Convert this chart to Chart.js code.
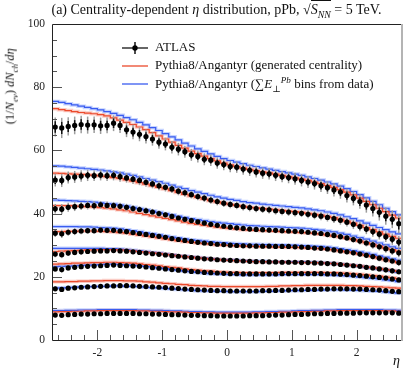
<!DOCTYPE html>
<html>
<head>
<meta charset="utf-8">
<script src="https://cdn.jsdelivr.net/npm/chart.js@4.4.0/dist/chart.umd.min.js"></script>
<style>
body { margin: 0; background: #fff; }
#wrap { position: relative; width: 415px; height: 375px; font-family: "Liberation Serif", "DejaVu Serif", serif; color: #111; }
#c { position: absolute; left: 0; top: 0; }
.title { position: absolute; left: 0; width: 433px; top: 2px; text-align: center; font-size: 14px; white-space: nowrap; }
.root { border-top: 1px solid #111; padding-top: 1px; }
.ylab { position: absolute; left: 12px; top: 84px; width: 160px; margin-left: -80px; margin-top: -9px; text-align: center; font-size: 12.5px; line-height: 18px; white-space: nowrap; transform: rotate(-90deg); }
.xlab { position: absolute; left: 393px; top: 353px; font-size: 14px; font-style: italic; }
.leg { position: absolute; left: 120px; font-size: 13px; white-space: nowrap; }
.leg svg { position: absolute; left: 0; top: 1px; }
.leg span { position: absolute; left: 35px; top: -1px; }
sub, sup { font-size: 70%; }
</style>
</head>
<body>
<div id="wrap">
  <canvas id="c" width="415" height="375"></canvas>
  <div class="title">(a) Centrality-dependent <i>η</i> distribution, pPb, √<span class="root"><i>S</i><sub><i>NN</i></sub></span> = 5 TeV.</div>
  <div class="ylab">(1/<i>N</i><sub><i>ev</i></sub>) <i>dN</i><sub><i>ch</i></sub>/<i>dη</i></div>
  <div class="xlab">η</div>
  <div class="leg" style="top:40px">
    <svg width="30" height="14"><line x1="2" y1="7" x2="28" y2="7" stroke="#000" stroke-width="1.2"/><line x1="15" y1="1" x2="15" y2="13" stroke="#000" stroke-width="1.4"/><circle cx="15" cy="7" r="2.7" fill="#000"/></svg>
    <span>ATLAS</span>
  </div>
  <div class="leg" style="top:58px">
    <svg width="30" height="14"><line x1="2" y1="7" x2="28" y2="7" stroke="#eb4a2c" stroke-width="1.3"/></svg>
    <span>Pythia8/Angantyr (generated centrality)</span>
  </div>
  <div class="leg" style="top:76px">
    <svg width="30" height="14"><line x1="2" y1="7" x2="28" y2="7" stroke="#3a5cf0" stroke-width="1.3"/></svg>
    <span>Pythia8/Angantyr (∑<i>E</i><sub>⊥</sub><sup><i>Pb</i></sup> bins from data)</span>
  </div>
</div>
<script>
// eta bin centres (bin width 0.1)
const eta = [-2.65,-2.55,-2.45,-2.35,-2.25,-2.15,-2.05,-1.95,-1.85,-1.75,-1.65,-1.55,-1.45,-1.35,-1.25,-1.15,-1.05,-0.95,-0.85,-0.75,-0.65,-0.55,-0.45,-0.35,-0.25,-0.15,-0.05,
  0.05,0.15,0.25,0.35,0.45,0.55,0.65,0.75,0.85,0.95,1.05,1.15,1.25,1.35,1.45,1.55,1.65,1.75,1.85,1.95,2.05,2.15,2.25,2.35,2.45,2.55,2.65];

const xTicks = [-2, -1, 0, 1, 2];
const yTicks = [0, 20, 40, 60, 80, 100];

// ATLAS data, one array per centrality class (most central first)
const atlas1 = [67.4,67.1,67.6,67.9,68.2,68.0,68.1,67.8,67.9,68.6,67.9,66.5,65.8,65.1,64.4,63.6,62.6,62.0,61.0,60.4,59.6,58.6,58.1,57.2,56.9,56.0,55.5,
  54.9,54.7,54.1,53.7,53.2,52.8,52.6,52.1,51.7,51.4,51.0,50.5,50.0,49.5,48.8,48.2,47.5,46.8,45.7,44.8,43.8,42.7,41.6,40.4,39.2,38.2,36.8];
const atlas2 = [50.6,50.5,51.4,51.6,51.9,52.1,52.0,52.2,52.0,52.1,51.7,51.3,50.9,50.5,49.9,49.4,48.8,48.3,47.8,47.1,46.6,46.0,45.4,44.9,44.3,43.8,43.3,
  42.9,42.6,42.2,41.9,41.6,41.4,41.2,40.9,40.7,40.5,40.3,40.1,39.8,39.5,39.2,38.8,38.4,37.9,37.3,36.6,35.9,35.1,34.3,33.5,32.7,31.9,31.0];
const atlas3 = [41.5,41.4,42.0,42.2,42.4,42.6,42.5,42.8,42.6,42.5,42.3,42.0,41.6,41.3,40.9,40.5,40.0,39.6,39.1,38.6,38.2,37.8,37.4,37.0,36.6,36.3,36.0,
  35.7,35.5,35.3,35.1,35.0,34.9,34.8,34.7,34.6,34.5,34.4,34.3,34.1,33.9,33.7,33.4,33.1,32.7,32.3,31.8,31.3,30.7,30.1,29.5,28.9,28.2,27.6];
const atlas4 = [33.8,33.6,34.1,34.3,34.5,34.6,34.6,34.8,34.7,34.7,34.5,34.3,34.0,33.7,33.4,33.1,32.8,32.5,32.1,31.8,31.5,31.2,30.9,30.7,30.5,30.3,30.2,
  30.0,29.9,29.8,29.8,29.7,29.7,29.7,29.6,29.6,29.6,29.5,29.4,29.3,29.1,29.0,28.8,28.5,28.2,27.9,27.6,27.2,26.8,26.4,25.9,25.4,25.0,24.5];
const atlas5 = [27.2,27.0,27.5,27.7,27.9,28.0,28.1,28.2,28.2,28.3,28.2,28.1,27.9,27.7,27.5,27.3,27.1,26.9,26.7,26.5,26.3,26.1,25.9,25.7,25.6,25.4,25.3,
  25.2,25.1,25.0,24.9,24.8,24.8,24.7,24.7,24.6,24.6,24.6,24.5,24.5,24.4,24.3,24.2,24.1,23.9,23.7,23.5,23.3,23.0,22.8,22.5,22.2,21.9,21.6];
const atlas6 = [22.5,22.3,22.8,23.0,23.2,23.3,23.4,23.5,23.6,23.7,23.6,23.5,23.4,23.3,23.1,22.9,22.7,22.5,22.3,22.1,21.9,21.7,21.6,21.4,21.3,21.2,21.1,
  21.0,21.0,20.9,20.9,20.9,20.9,20.9,20.9,21.0,21.0,21.0,21.0,21.0,21.0,21.0,20.9,20.9,20.8,20.7,20.5,20.4,20.2,20.0,19.8,19.6,19.3,19.0];
const atlas7 = [16.2,16.0,16.4,16.5,16.7,16.8,16.9,17.0,17.1,17.1,17.2,17.2,17.1,17.0,16.9,16.8,16.7,16.6,16.4,16.3,16.1,16.0,15.9,15.8,15.7,15.6,15.6,
  15.5,15.5,15.5,15.5,15.5,15.6,15.6,15.7,15.7,15.8,15.9,15.9,16.0,16.0,16.1,16.1,16.2,16.2,16.2,16.1,16.1,16.0,15.9,15.8,15.6,15.4,15.3];
const atlas8 = [7.9,7.8,8.0,8.1,8.2,8.2,8.3,8.3,8.4,8.4,8.4,8.4,8.4,8.3,8.3,8.2,8.2,8.1,8.0,8.0,7.9,7.8,7.8,7.7,7.7,7.6,7.6,
  7.6,7.6,7.6,7.7,7.7,7.7,7.8,7.9,7.9,8.0,8.1,8.1,8.2,8.3,8.3,8.4,8.4,8.5,8.5,8.5,8.6,8.6,8.6,8.6,8.6,8.6,8.5];

// ATLAS uncertainties
const err1 = [3.0,3.2,2.9,2.8,2.8,2.7,2.6,2.6,2.5,2.5,2.4,2.3,2.3,2.2,2.2,2.1,2.1,2.0,2.0,2.0,1.9,1.9,1.9,1.9,1.8,1.8,1.8,
  1.8,1.8,1.8,1.8,1.8,1.8,1.8,1.8,1.8,1.8,1.9,1.9,1.9,1.9,2.0,2.0,2.1,2.1,2.2,2.2,2.3,2.4,2.5,2.6,2.7,2.8,3.0];
const err2 = [2.0,2.1,1.9,1.9,1.8,1.8,1.7,1.7,1.7,1.6,1.6,1.5,1.5,1.5,1.4,1.4,1.4,1.3,1.3,1.3,1.3,1.2,1.2,1.2,1.2,1.2,1.2,
  1.2,1.2,1.2,1.2,1.2,1.2,1.2,1.2,1.2,1.2,1.2,1.2,1.3,1.3,1.3,1.3,1.4,1.4,1.4,1.5,1.5,1.6,1.6,1.7,1.7,1.8,1.9];
const err3 = [1.5,1.6,1.4,1.4,1.3,1.3,1.3,1.2,1.2,1.2,1.1,1.1,1.1,1.0,1.0,1.0,1.0,0.9,0.9,0.9,0.9,0.9,0.9,0.9,0.9,0.9,0.9,
  0.9,0.9,0.9,0.9,0.9,0.9,0.9,0.9,0.9,0.9,0.9,0.9,0.9,0.9,0.9,1.0,1.0,1.0,1.0,1.1,1.1,1.1,1.2,1.2,1.3,1.3,1.4];
const err4 = [1.2,1.3,1.1,1.1,1.0,1.0,1.0,1.0,0.9,0.9,0.9,0.9,0.8,0.8,0.8,0.8,0.8,0.7,0.7,0.7,0.7,0.7,0.7,0.7,0.7,0.7,0.7,
  0.7,0.7,0.7,0.7,0.7,0.7,0.7,0.7,0.7,0.7,0.7,0.7,0.7,0.7,0.7,0.8,0.8,0.8,0.8,0.8,0.9,0.9,0.9,1.0,1.0,1.0,1.1];
const err5 = [1.0,1.1,0.9,0.9,0.9,0.8,0.8,0.8,0.8,0.7,0.7,0.7,0.7,0.7,0.6,0.6,0.6,0.6,0.6,0.6,0.6,0.6,0.6,0.6,0.6,0.6,0.6,
  0.6,0.6,0.6,0.6,0.6,0.6,0.6,0.6,0.6,0.6,0.6,0.6,0.6,0.6,0.6,0.6,0.6,0.7,0.7,0.7,0.7,0.7,0.8,0.8,0.8,0.9,0.9];
const err6 = [0.9,1.0,0.8,0.8,0.8,0.7,0.7,0.7,0.7,0.6,0.6,0.6,0.6,0.6,0.6,0.5,0.5,0.5,0.5,0.5,0.5,0.5,0.5,0.5,0.5,0.5,0.5,
  0.5,0.5,0.5,0.5,0.5,0.5,0.5,0.5,0.5,0.5,0.5,0.5,0.5,0.5,0.5,0.5,0.5,0.6,0.6,0.6,0.6,0.6,0.7,0.7,0.7,0.8,0.8];
const err7 = [0.7,0.8,0.6,0.6,0.6,0.6,0.5,0.5,0.5,0.5,0.5,0.5,0.5,0.4,0.4,0.4,0.4,0.4,0.4,0.4,0.4,0.4,0.4,0.4,0.4,0.4,0.4,
  0.4,0.4,0.4,0.4,0.4,0.4,0.4,0.4,0.4,0.4,0.4,0.4,0.4,0.4,0.4,0.4,0.4,0.4,0.5,0.5,0.5,0.5,0.5,0.5,0.6,0.6,0.6];
const err8 = [0.5,0.5,0.4,0.4,0.4,0.4,0.4,0.4,0.4,0.4,0.4,0.4,0.4,0.3,0.3,0.3,0.3,0.3,0.3,0.3,0.3,0.3,0.3,0.3,0.3,0.3,0.3,
  0.3,0.3,0.3,0.3,0.3,0.3,0.3,0.3,0.3,0.3,0.3,0.3,0.3,0.3,0.3,0.3,0.3,0.3,0.4,0.4,0.4,0.4,0.4,0.4,0.4,0.4,0.5];

// Pythia8/Angantyr, generated centrality
const gen1 = [73.2,72.9,72.6,72.3,72.0,71.8,71.6,71.3,70.9,70.3,69.6,68.9,68.2,67.4,66.6,65.6,64.6,63.6,62.6,61.6,60.7,59.8,59.0,58.2,57.4,56.7,56.0,
  55.4,54.9,54.4,54.0,53.6,53.2,52.9,52.5,52.1,51.7,51.3,50.9,50.5,50.0,49.5,48.9,48.3,47.6,46.8,45.9,44.9,43.9,42.8,41.7,40.6,39.5,38.6];
const gen2 = [52.8,52.7,52.6,52.5,52.4,52.3,52.1,51.9,51.7,51.4,51.1,50.7,50.3,49.8,49.3,48.8,48.3,47.8,47.3,46.7,46.1,45.6,45.1,44.6,44.1,43.7,43.3,
  42.9,42.6,42.3,42.0,41.8,41.6,41.4,41.2,41.0,40.8,40.6,40.4,40.1,39.8,39.5,39.1,38.7,38.2,37.6,37.0,36.3,35.6,34.9,34.2,33.5,32.8,32.2];
const gen3 = [42.5,42.5,42.5,42.4,42.3,42.2,42.1,41.9,41.7,41.5,41.2,40.9,40.5,40.1,39.7,39.3,38.9,38.5,38.1,37.7,37.3,36.9,36.6,36.3,36.0,35.7,35.5,
  35.3,35.1,34.9,34.8,34.7,34.6,34.5,34.4,34.3,34.2,34.1,34.0,33.9,33.7,33.5,33.2,32.9,32.6,32.2,31.8,31.3,30.8,30.3,29.7,29.1,28.6,28.1];
const gen4 = [34.3,34.3,34.4,34.4,34.5,34.5,34.5,34.4,34.3,34.2,34.0,33.8,33.5,33.2,32.9,32.6,32.3,32.0,31.7,31.4,31.1,30.9,30.7,30.5,30.3,30.1,30.0,
  29.9,29.8,29.7,29.6,29.6,29.5,29.5,29.4,29.4,29.3,29.3,29.2,29.1,29.0,28.9,28.7,28.5,28.2,27.9,27.6,27.2,26.8,26.4,25.9,25.4,25.0,24.5];
const gen5 = [28.0,28.1,28.2,28.3,28.4,28.5,28.5,28.6,28.6,28.6,28.5,28.4,28.2,28.0,27.8,27.6,27.4,27.1,26.9,26.6,26.4,26.2,26.0,25.8,25.6,25.5,25.3,
  25.2,25.1,25.0,24.9,24.8,24.8,24.7,24.7,24.7,24.6,24.6,24.6,24.5,24.5,24.4,24.3,24.2,24.0,23.8,23.6,23.4,23.1,22.9,22.6,22.3,22.0,21.7];
const gen6 = [24.0,24.1,24.2,24.3,24.3,24.4,24.5,24.5,24.6,24.6,24.5,24.4,24.3,24.1,23.9,23.7,23.5,23.2,23.0,22.8,22.5,22.3,22.1,21.9,21.8,21.6,21.5,
  21.4,21.4,21.3,21.3,21.3,21.3,21.3,21.3,21.4,21.4,21.4,21.4,21.4,21.4,21.4,21.3,21.3,21.2,21.1,20.9,20.8,20.6,20.4,20.2,19.9,19.7,19.4];
const gen7 = [18.4,18.4,18.5,18.5,18.6,18.6,18.7,18.7,18.8,18.8,18.8,18.7,18.7,18.6,18.4,18.3,18.1,17.9,17.8,17.6,17.5,17.3,17.2,17.1,17.0,17.0,16.9,
  16.9,16.9,16.9,16.9,16.9,16.9,17.0,17.0,17.1,17.1,17.2,17.2,17.3,17.3,17.3,17.3,17.3,17.3,17.2,17.2,17.1,17.0,16.9,16.8,16.7,16.5,16.4];
const gen8 = [8.9,9.0,9.0,9.1,9.1,9.2,9.2,9.3,9.3,9.3,9.3,9.3,9.3,9.2,9.2,9.1,9.1,9.0,8.9,8.9,8.8,8.7,8.7,8.6,8.6,8.5,8.5,
  8.5,8.5,8.5,8.5,8.6,8.6,8.7,8.7,8.8,8.8,8.9,9.0,9.0,9.1,9.1,9.2,9.2,9.3,9.3,9.3,9.3,9.3,9.3,9.3,9.2,9.2,9.1];

// Pythia8/Angantyr, sum E_T^Pb bins from data
const sum1 = [75.5,75.2,74.8,74.4,74.0,73.6,73.2,72.8,72.3,71.7,71.1,70.4,69.7,68.9,68.1,67.2,66.3,65.3,64.3,63.3,62.3,61.4,60.5,59.7,58.9,58.1,57.4,
  56.8,56.3,55.8,55.3,54.9,54.5,54.1,53.7,53.3,52.9,52.5,52.1,51.6,51.1,50.6,50.0,49.4,48.7,47.9,47.0,46.0,45.0,43.9,42.8,41.7,40.6,39.6];
const sum2 = [55.1,55.0,54.8,54.6,54.4,54.2,54.0,53.8,53.5,53.2,52.9,52.5,52.1,51.6,51.1,50.6,50.1,49.6,49.0,48.4,47.9,47.3,46.8,46.3,45.8,45.3,44.9,
  44.5,44.2,43.8,43.5,43.3,43.0,42.8,42.6,42.4,42.2,42.0,41.8,41.5,41.2,40.9,40.5,40.1,39.6,39.0,38.4,37.7,37.0,36.3,35.6,34.9,34.2,33.6];
const sum3 = [44.3,44.2,44.1,44.0,43.9,43.8,43.6,43.4,43.2,43.0,42.7,42.4,42.0,41.6,41.2,40.8,40.4,40.0,39.6,39.2,38.8,38.4,38.1,37.8,37.5,37.2,37.0,
  36.8,36.6,36.4,36.2,36.1,36.0,35.9,35.8,35.7,35.6,35.5,35.4,35.2,35.0,34.8,34.5,34.2,33.8,33.4,32.9,32.4,31.9,31.3,30.7,30.1,29.5,29.0];
const sum4 = [35.9,35.9,35.9,35.9,35.8,35.8,35.7,35.6,35.5,35.4,35.2,34.9,34.6,34.3,33.9,33.6,33.3,32.9,32.6,32.3,32.0,31.7,31.5,31.3,31.1,30.9,30.8,
  30.6,30.5,30.4,30.3,30.3,30.2,30.2,30.1,30.1,30.0,30.0,29.9,29.8,29.7,29.6,29.4,29.2,28.9,28.6,28.3,27.9,27.5,27.1,26.6,26.2,25.7,25.3];
const sum5 = [29.0,29.0,29.0,29.0,29.0,29.0,29.0,29.0,28.9,28.9,28.8,28.6,28.4,28.2,28.0,27.7,27.5,27.2,27.0,26.7,26.5,26.3,26.1,25.9,25.7,25.5,25.4,
  25.3,25.2,25.1,25.0,24.9,24.9,24.8,24.8,24.8,24.7,24.7,24.7,24.6,24.6,24.5,24.4,24.2,24.0,23.8,23.6,23.3,23.0,22.8,22.5,22.2,21.9,21.5];
const sum6 = [23.2,23.3,23.4,23.5,23.6,23.7,23.8,23.9,24.0,24.0,23.9,23.8,23.7,23.5,23.3,23.1,22.8,22.6,22.3,22.1,21.8,21.6,21.4,21.2,21.0,20.9,20.8,
  20.7,20.7,20.6,20.6,20.6,20.6,20.6,20.6,20.7,20.7,20.7,20.7,20.7,20.7,20.7,20.6,20.5,20.4,20.3,20.1,19.9,19.7,19.5,19.3,19.0,18.8,18.5];
const sum7 = [16.4,16.5,16.6,16.7,16.8,16.9,16.9,17.0,17.0,17.1,17.1,17.0,17.0,16.9,16.7,16.6,16.5,16.3,16.2,16.0,15.9,15.8,15.6,15.5,15.5,15.4,15.4,
  15.3,15.3,15.3,15.3,15.3,15.4,15.4,15.5,15.5,15.6,15.6,15.7,15.7,15.8,15.8,15.9,15.9,15.9,15.8,15.8,15.7,15.6,15.5,15.4,15.2,15.0,14.8];
const sum8 = [9.3,9.3,9.4,9.4,9.5,9.5,9.5,9.6,9.6,9.6,9.6,9.6,9.6,9.5,9.5,9.4,9.4,9.3,9.2,9.2,9.1,9.0,9.0,8.9,8.9,8.8,8.8,
  8.8,8.8,8.8,8.8,8.9,8.9,9.0,9.0,9.1,9.1,9.2,9.3,9.3,9.4,9.4,9.5,9.5,9.6,9.6,9.6,9.6,9.6,9.6,9.6,9.5,9.5,9.4];

const atlas = [atlas1, atlas2, atlas3, atlas4, atlas5, atlas6, atlas7, atlas8];
const errs = [err1, err2, err3, err4, err5, err6, err7, err8];
const gen = [gen1, gen2, gen3, gen4, gen5, gen6, gen7, gen8];
const sumEt = [sum1, sum2, sum3, sum4, sum5, sum6, sum7, sum8];

const RED = "#eb4a2c", RED_BAND = "rgba(240,110,90,0.35)";
const BLUE = "#3a5cf0", BLUE_BAND = "rgba(90,130,255,0.35)";

// histogram as a stepped line over the bin edges
let half = (eta[1] - eta[0]) / 2;
let histo = (vals) => {
    let pts = vals.map((v, i) => ({ x: eta[i] - half, y: v }));
    pts.push({ x: eta[eta.length - 1] + half, y: vals[vals.length - 1] });
    return pts;
};

let datasets = [];
for (let g = 0; g < atlas.length; g++) {
    datasets.push({
        type: "scatter", data: atlas[g].map((v, i) => ({ x: eta[i], y: v })), err: errs[g],
        pointRadius: 2.6, pointBackgroundColor: "#000", pointBorderWidth: 0, order: 0
    });
    datasets.push({ type: "line", data: histo(gen[g]), stepped: true, borderColor: RED, borderWidth: 1.2, pointRadius: 0, order: 1 });
    datasets.push({ type: "line", data: histo(sumEt[g]), stepped: true, borderColor: BLUE, borderWidth: 1.2, pointRadius: 0, order: 2 });
    datasets.push({ type: "line", data: histo(gen[g]), stepped: true, borderColor: RED_BAND, borderWidth: 3.5, pointRadius: 0, order: 3 });
    datasets.push({ type: "line", data: histo(sumEt[g]), stepped: true, borderColor: BLUE_BAND, borderWidth: 3.5, pointRadius: 0, order: 3 });
}

// error bars, frame and inward ticks
const extras = {
    id: "extras",
    beforeDatasetDraw(chart, args) {
        let ds = chart.data.datasets[args.index];
        if (!ds.err) return;
        let xs = chart.scales.x, ys = chart.scales.y, ctx = chart.ctx;
        ctx.save();
        ctx.lineWidth = 1.5;
        ds.data.forEach((p, i) => {
            let px = xs.getPixelForValue(p.x);
            ctx.strokeStyle = "#9c9c9c";
            ctx.beginPath();
            ctx.moveTo(px, ys.getPixelForValue(p.y - ds.err[i]));
            ctx.lineTo(px, ys.getPixelForValue(p.y + ds.err[i]));
            ctx.stroke();
            ctx.strokeStyle = "#111";
            ctx.beginPath();
            ctx.moveTo(px, ys.getPixelForValue(p.y - 0.6 * ds.err[i]));
            ctx.lineTo(px, ys.getPixelForValue(p.y + 0.6 * ds.err[i]));
            ctx.stroke();
        });
        ctx.restore();
    },
    afterDraw(chart) {
        let a = chart.chartArea, ctx = chart.ctx;
        let xs = chart.scales.x, ys = chart.scales.y;
        ctx.save();
        ctx.lineWidth = 1;
        ctx.strokeStyle = "#555";
        for (let v = -2.6; v < 2.7; v += 0.2) {
            let px = Math.round(xs.getPixelForValue(v)) + 0.5;
            ctx.beginPath(); ctx.moveTo(px, a.bottom); ctx.lineTo(px, a.bottom - 5); ctx.stroke();
        }
        xTicks.forEach(v => {
            let px = Math.round(xs.getPixelForValue(v)) + 0.5;
            ctx.beginPath(); ctx.moveTo(px, a.bottom); ctx.lineTo(px, a.bottom - 10); ctx.stroke();
        });
        for (let v = 5; v < 100; v += 5) {
            let py = Math.round(ys.getPixelForValue(v)) + 0.5;
            let len = v % 20 == 0 ? 10 : 5;
            ctx.beginPath(); ctx.moveTo(a.left, py); ctx.lineTo(a.left + len, py); ctx.stroke();
        }
        ctx.strokeStyle = "#222";
        ctx.beginPath();
        ctx.moveTo(a.right, a.top + 0.5); ctx.lineTo(a.left + 0.5, a.top + 0.5);
        ctx.lineTo(a.left + 0.5, a.bottom + 0.5); ctx.lineTo(a.right, a.bottom + 0.5);
        ctx.stroke();
        ctx.strokeStyle = "#b4b4b4";
        ctx.lineWidth = 2;
        ctx.beginPath(); ctx.moveTo(a.right, a.top); ctx.lineTo(a.right, a.bottom + 1); ctx.stroke();
        ctx.restore();
    }
};

const tickFont = { family: "'Liberation Serif', 'DejaVu Serif', serif", size: 11.5 };

new Chart(document.getElementById("c"), {
    data: { datasets: datasets },
    options: {
        responsive: false,
        animation: false,
        devicePixelRatio: 1,
        layout: { padding: { top: 24, right: 13, left: 0, bottom: 0 } },
        plugins: { legend: { display: false }, tooltip: { enabled: false } },
        scales: {
            x: {
                type: "linear", min: -2.7, max: 2.7,
                grid: { display: false, drawTicks: false }, border: { display: false },
                ticks: { font: tickFont, color: "#222", padding: 6 },
                afterBuildTicks: s => { s.ticks = xTicks.map(v => ({ value: v })); },
                afterFit: s => { s.height = 35; }
            },
            y: {
                type: "linear", min: 0, max: 100,
                grid: { display: false, drawTicks: false }, border: { display: false },
                ticks: { font: tickFont, color: "#222", padding: 7 },
                afterBuildTicks: s => { s.ticks = yTicks.map(v => ({ value: v })); },
                afterFit: s => { s.width = 52; }
            }
        }
    },
    plugins: [extras]
});
</script>
</body>
</html>
